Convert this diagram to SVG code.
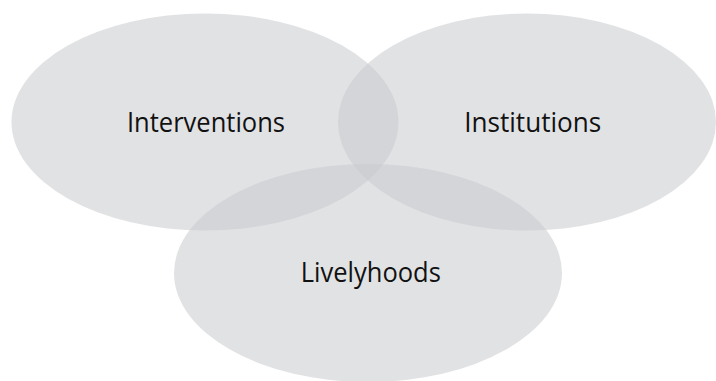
<svg xmlns="http://www.w3.org/2000/svg" width="716" height="381" viewBox="0 0 716 381">
<style>
.c{fill:#c9cacd;fill-opacity:0.55}
.t{font-family:"Open Sans","Liberation Sans",sans-serif;font-size:28px;fill:#111;text-anchor:middle}
</style>
<rect width="716" height="381" fill="#fff"/>
<g id="interventions"><ellipse class="c" cx="205" cy="122" rx="193.5" ry="108.5"/><text class="t" x="206" y="132.3" textLength="158" lengthAdjust="spacingAndGlyphs">Interventions</text></g>
<g id="institutions"><ellipse class="c" cx="527" cy="122" rx="189" ry="108.5"/><text class="t" x="532.7" y="132.3" textLength="137" lengthAdjust="spacingAndGlyphs">Institutions</text></g>
<g id="livelyhoods"><ellipse class="c" cx="368" cy="273" rx="194" ry="109"/><text class="t" x="370.8" y="282.3" textLength="140" lengthAdjust="spacingAndGlyphs">Livelyhoods</text></g>
<g id="connectors"/>
</svg>
